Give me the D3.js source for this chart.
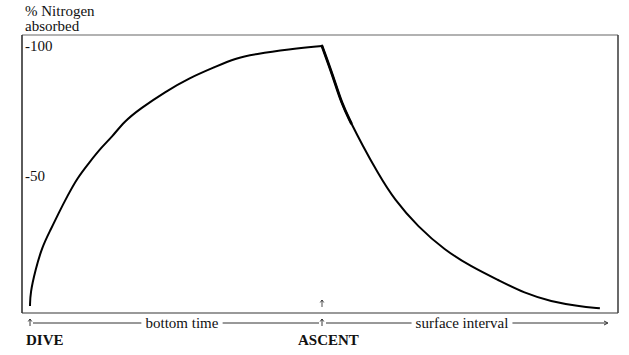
<!DOCTYPE html>
<html>
<head>
<meta charset="utf-8">
<script src="https://cdn.jsdelivr.net/npm/d3@7"></script>
<style>
  html, body { margin: 0; padding: 0; background: #fff; }
  svg { display: block; }
</style>
</head>
<body>
<script>
// ---- data (time in minutes, % nitrogen absorbed) ----
const riseTime = [0, 0.06, 1.1, 2.5, 4.2, 5.9, 7.6, 9.7, 12.1, 14.8, 16.9, 19.3, 22.7, 27.8, 32.6, 38.1, 42.2, 46.3, 53.2, 60];
const riseN    = [0, 5.0, 13.8, 22.8, 29.2, 35.8, 42.0, 49.2, 55.0, 61.3, 65.1, 70.9, 76.0, 82.4, 87.6, 92.0, 95.3, 96.9, 98.7, 100];
const fallTime = [60, 62.3, 64.0, 66.0, 68.1, 71.5, 74.9, 79.7, 85.2, 90.7, 96.2, 101.6, 107.1, 112.6, 117.1];
const fallN    = [100, 88.2, 78.0, 70.3, 62.6, 51.0, 40.8, 30.5, 21.5, 15.1, 10.0, 4.9, 1.7, 0.0, -0.9];
const yTicks = [100, 50];
const yTickLabels = ["-100", "-50"];
const titleLines = ["% Nitrogen", "absorbed"];
const phaseLabels = ["bottom time", "surface interval"];
const eventLabels = ["DIVE", "ASCENT"];
const eventTimes = [0, 60];
const endTime = 120;

const FONT = "Liberation Serif";
const W = 629, H = 355;
const svg = d3.select("body").append("svg").attr("width", W).attr("height", H);

const frame = {left: 22, right: 618, top: 35, bottom: 313};
const x = d3.scaleLinear().domain([0, endTime]).range([30, 614]);
const y = d3.scaleLinear().domain([0, 100]).range([306, 46]);

// frame
svg.append("line").attr("x1", frame.left).attr("x2", frame.right).attr("y1", frame.top).attr("y2", frame.top)
  .attr("stroke", "#999").attr("stroke-width", 1.6);
svg.append("line").attr("x1", frame.left).attr("x2", frame.right).attr("y1", frame.bottom).attr("y2", frame.bottom)
  .attr("stroke", "#777").attr("stroke-width", 1.6);
svg.append("line").attr("x1", frame.left).attr("x2", frame.left).attr("y1", frame.top).attr("y2", frame.bottom)
  .attr("stroke", "#333").attr("stroke-width", 1.6);
svg.append("line").attr("x1", frame.right).attr("x2", frame.right).attr("y1", frame.top).attr("y2", frame.bottom)
  .attr("stroke", "#444").attr("stroke-width", 1.6);

// title
svg.selectAll("text.title").data(titleLines).enter().append("text")
  .attr("class", "title")
  .attr("x", 25).attr("y", (d, i) => 16 + i * 15)
  .attr("font-family", FONT).attr("font-size", 15).attr("fill", "#111")
  .text(d => d);

// y tick labels
svg.selectAll("text.ytick").data(yTicks).enter().append("text")
  .attr("class", "ytick")
  .attr("x", 25).attr("y", d => y(d))
  .attr("dy", "0.35em")
  .attr("font-family", FONT).attr("font-size", 15).attr("fill", "#111")
  .text((d, i) => yTickLabels[i]);

// curves
const line = d3.line().x(d => x(d[0])).y(d => y(d[1])).curve(d3.curveBasis);
const rise = riseTime.map((t, i) => [t, riseN[i]]);
const fall = fallTime.map((t, i) => [t, fallN[i]]);
svg.append("path").datum(rise).attr("d", line)
  .attr("fill", "none").attr("stroke", "#000").attr("stroke-width", 2).attr("stroke-linejoin", "round");
svg.append("path").datum(fall).attr("d", line)
  .attr("fill", "none").attr("stroke", "#000").attr("stroke-width", 2).attr("stroke-linejoin", "round");
// thicker initial part of the fall
svg.append("path").datum(fall.slice(0, 4)).attr("d", line)
  .attr("fill", "none").attr("stroke", "#000").attr("stroke-width", 2.8).attr("stroke-linecap", "round");

// small up arrows
function upArrow(cx, y0, y1, sw) {
  const g = svg.append("g").attr("stroke", "#222").attr("fill", "none").attr("stroke-width", sw);
  g.append("line").attr("x1", cx).attr("x2", cx).attr("y1", y0).attr("y2", y1);
  g.append("path").attr("d", `M${cx - 1.8},${y0 + 2.5} L${cx},${y0} L${cx + 1.8},${y0 + 2.5}`);
}
upArrow(x(eventTimes[1]), 300, 307, 0.8);

// bottom timeline
const rowY = 323;
eventTimes.forEach(t => upArrow(x(t), 319, 326, 0.9));

const labelX = [182, 462];
const segs = [
  [x(eventTimes[0]) + 3, 0, "l"], [x(eventTimes[1]) - 3, 0, "r"],
  [x(eventTimes[1]) + 4, 1, "l"], [607, 1, "r"]
];
const lblSel = svg.selectAll("text.phase").data(phaseLabels).enter().append("text")
  .attr("class", "phase")
  .attr("x", (d, i) => labelX[i]).attr("y", 328)
  .attr("text-anchor", "middle")
  .attr("font-family", FONT).attr("font-size", 15).attr("fill", "#111")
  .text(d => d);
const widths = [];
lblSel.each(function () { widths.push(this.getBBox().width); });
segs.forEach(s => {
  const [xe, idx, side] = s;
  const lx = side === "l" ? labelX[idx] - widths[idx] / 2 - 4 : labelX[idx] + widths[idx] / 2 + 4;
  svg.append("line").attr("x1", xe).attr("x2", lx).attr("y1", rowY).attr("y2", rowY)
    .attr("stroke", "#333").attr("stroke-width", 1);
});
// right arrow head
svg.append("path").attr("d", `M604,${rowY - 2} L608,${rowY} L604,${rowY + 2}`)
  .attr("fill", "none").attr("stroke", "#333").attr("stroke-width", 1);

// event labels
const eventX = [26, 298];
svg.selectAll("text.event").data(eventLabels).enter().append("text")
  .attr("class", "event")
  .attr("x", (d, i) => eventX[i]).attr("y", 345)
  .attr("font-family", FONT).attr("font-size", 15).attr("font-weight", "bold").attr("fill", "#111")
  .text(d => d);
</script>
</body>
</html>
